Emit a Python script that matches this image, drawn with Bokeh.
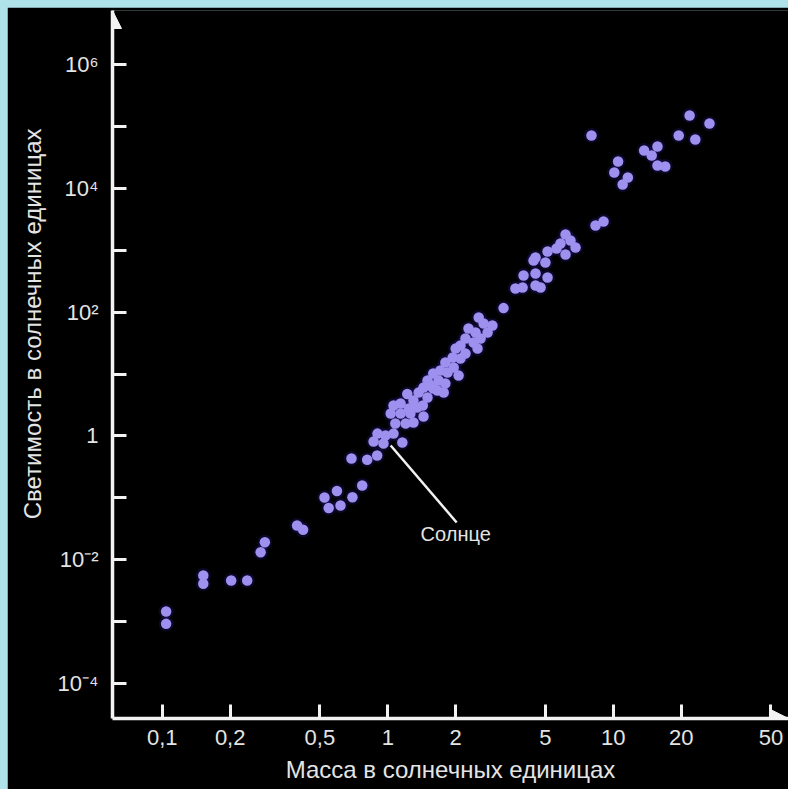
from bokeh.plotting import figure
from bokeh.layouts import column
from bokeh.models import Range1d, FixedTicker, Arrow, NormalHead, Label, Title
from bokeh.embed import file_html
from bokeh.resources import INLINE

# ---- data (mass and luminosity in solar units) ----
mass = [0.104, 0.104, 0.152, 0.152, 0.202, 0.238, 0.273, 0.285, 0.396, 0.421,
        0.524, 0.595, 0.547, 0.617, 0.697, 0.690, 0.770, 0.810, 0.897,
        0.900, 0.977, 1.06, 1.16, 0.957, 0.865,
        1.08, 1.20, 1.30, 1.44, 1.26, 1.14, 1.35, 1.03, 1.24, 1.06,
        1.43, 1.14, 1.30, 1.50, 1.22, 1.37, 1.77, 1.59, 1.44, 1.80,
        1.50, 1.68, 2.06, 1.59, 1.84, 1.71, 1.96, 1.80, 2.10, 1.94,
        2.21, 2.00, 2.50, 2.10, 2.40, 2.21, 2.58, 2.28, 2.45, 2.77,
        2.53, 2.66, 2.91, 1.66, 1.55, 3.26,
        3.68, 3.96, 4.52, 4.76, 4.00, 4.52, 5.11, 4.43, 5.00, 5.11,
        5.60, 4.52, 6.14, 5.83, 6.46, 6.80, 6.14,
        8.00, 8.34, 9.05, 10.5, 10.1, 11.6, 11.0, 13.7, 15.7, 14.8,
        15.7, 17.0, 21.8, 26.7, 19.5, 23.1]
luminosity = [0.00146, 0.00092, 0.00556, 0.00408, 0.00461, 0.00461, 0.0132, 0.0192, 0.0357, 0.0304,
              0.101, 0.129, 0.0685, 0.0751, 0.102, 0.431, 0.158, 0.411, 0.482,
              1.09, 1.015, 1.09, 0.782, 0.754, 0.81,
              1.59, 1.59, 1.65, 2.06, 2.30, 2.30, 2.88, 2.30, 2.77, 3.10,
              3.10, 3.34, 3.73, 4.17, 4.75, 5.02, 5.02, 5.83, 6.05, 7.02,
              7.85, 7.85, 9.46, 10.2, 10.6, 11.4, 12.7, 15.3, 17.8, 18.5,
              21.4, 25.8, 25.8, 28.9, 32.3, 37.5, 37.5, 54.3, 46.8, 46.8,
              81.8, 65.4, 60.8, 5.41, 6.52, 116,
              241, 250, 269, 250, 390, 420, 362, 682, 633, 953,
              1065, 762, 1793, 1283, 1435, 1105, 852,
              71300, 2506, 2908, 27100, 18000, 14900, 11500, 40800, 47300, 33900,
              23400, 22500, 150000, 111000, 71300, 61400]

x_ticks = [0.1, 0.2, 0.5, 1, 2, 5, 10, 20, 50]
x_tick_labels = ["0,1", "0,2", "0,5", "1", "2", "5", "10", "20", "50"]
y_ticks = [1e-4, 1e-3, 1e-2, 1e-1, 1, 10, 100, 1e3, 1e4, 1e5, 1e6]
y_tick_labels = ["10\u207b\u2074", "", "10\u207b\u00b2", "", "1", "", "10\u00b2", "", "10\u2074", "", "10\u2076"]

x_title = "Масса в солнечных единицах"
y_title = "Светимость в солнечных единицах"

sun_text = "Солнце"
sun_pointer_mass = [1.03, 2.02]
sun_pointer_lum = [0.70, 0.040]
sun_text_mass = 2.0
sun_text_lum = 0.0265

# ---- layout constants ----
PAD = 7                    # light cyan page border on left/top
W, H = 788 - PAD, 789 - PAD
X_LOG_START, X_LOG_END = -1.2208, 1.7769
Y_LOG_START, Y_LOG_END = -4.565, 6.872

FG = "#f2f2f2"
TXT = "#e4e4e4"
FONT = "Liberation Sans"

p = figure(width=W, height=H,
           x_axis_type="log", y_axis_type="log",
           x_range=Range1d(10 ** X_LOG_START, 10 ** X_LOG_END),
           y_range=Range1d(10 ** Y_LOG_START, 10 ** Y_LOG_END),
           output_backend="svg", toolbar_location=None,
           min_border_left=112 - PAD, min_border_right=0,
           min_border_top=10 - PAD, min_border_bottom=71,
           background_fill_color="black", border_fill_color="black",
           outline_line_color=None, margin=(PAD, 0, 0, PAD))
p.grid.visible = False

for ax in (p.xaxis[0], p.yaxis[0]):
    ax.axis_line_color = FG
    ax.axis_line_width = 3.5
    ax.major_tick_line_color = FG
    ax.major_tick_line_width = 3
    ax.major_tick_in = 14
    ax.major_tick_out = 0
    ax.minor_tick_line_color = None
    ax.major_label_text_color = TXT
    ax.major_label_text_font = FONT
    ax.major_label_text_font_size = "22px"
    ax.axis_label_text_color = TXT
    ax.axis_label_text_font = FONT
    ax.axis_label_text_font_size = "24px"
    ax.axis_label_text_font_style = "normal"

p.xaxis.ticker = FixedTicker(ticks=x_ticks)
p.xaxis.major_label_overrides = dict(zip(x_ticks, x_tick_labels))
p.xaxis.major_label_standoff = 11
p.xaxis.axis_label = x_title
p.xaxis.axis_label_standoff = 8

p.yaxis.ticker = FixedTicker(ticks=y_ticks)
p.yaxis.major_label_overrides = dict(zip(y_ticks, y_tick_labels))
p.yaxis.major_label_standoff = 14

# y title: placed in the left panel, shifted towards the top as in the original
p.add_layout(Title(text=y_title, align="right", offset=118, standoff=18,
                   text_color=TXT, text_font=FONT, text_font_size="24px",
                   text_font_style="normal"), "left")

# stars: soft glow + dot
p.scatter(mass, luminosity, size=15, fill_color="#2a1d9a", fill_alpha=0.25, line_color=None)
p.scatter(mass, luminosity, size=10.5, fill_color="#9d90ee", line_color=None)

# Sun pointer and label
p.line(sun_pointer_mass, sun_pointer_lum, line_color=FG, line_width=2.5)
p.add_layout(Label(x=sun_text_mass, y=sun_text_lum, text=sun_text,
                   text_color=TXT, text_font=FONT, text_font_size="20px",
                   text_align="center", text_baseline="middle"))

# arrow heads on the axes
head_kw = dict(size=18, fill_color=FG, line_color=FG)
p.add_layout(Arrow(end=NormalHead(**head_kw), line_alpha=0,
                   x_start=10 ** X_LOG_START, y_start=10 ** (Y_LOG_END - 0.6),
                   x_end=10 ** X_LOG_START, y_end=10 ** Y_LOG_END))
p.add_layout(Arrow(end=NormalHead(**head_kw), line_alpha=0,
                   x_start=10 ** (X_LOG_END - 0.2), y_start=10 ** Y_LOG_START,
                   x_end=10 ** X_LOG_END, y_end=10 ** Y_LOG_START))

page = column(p, styles={"background-color": "#b0e2ea"})

open("out.html", "w").write(file_html(page, INLINE))
